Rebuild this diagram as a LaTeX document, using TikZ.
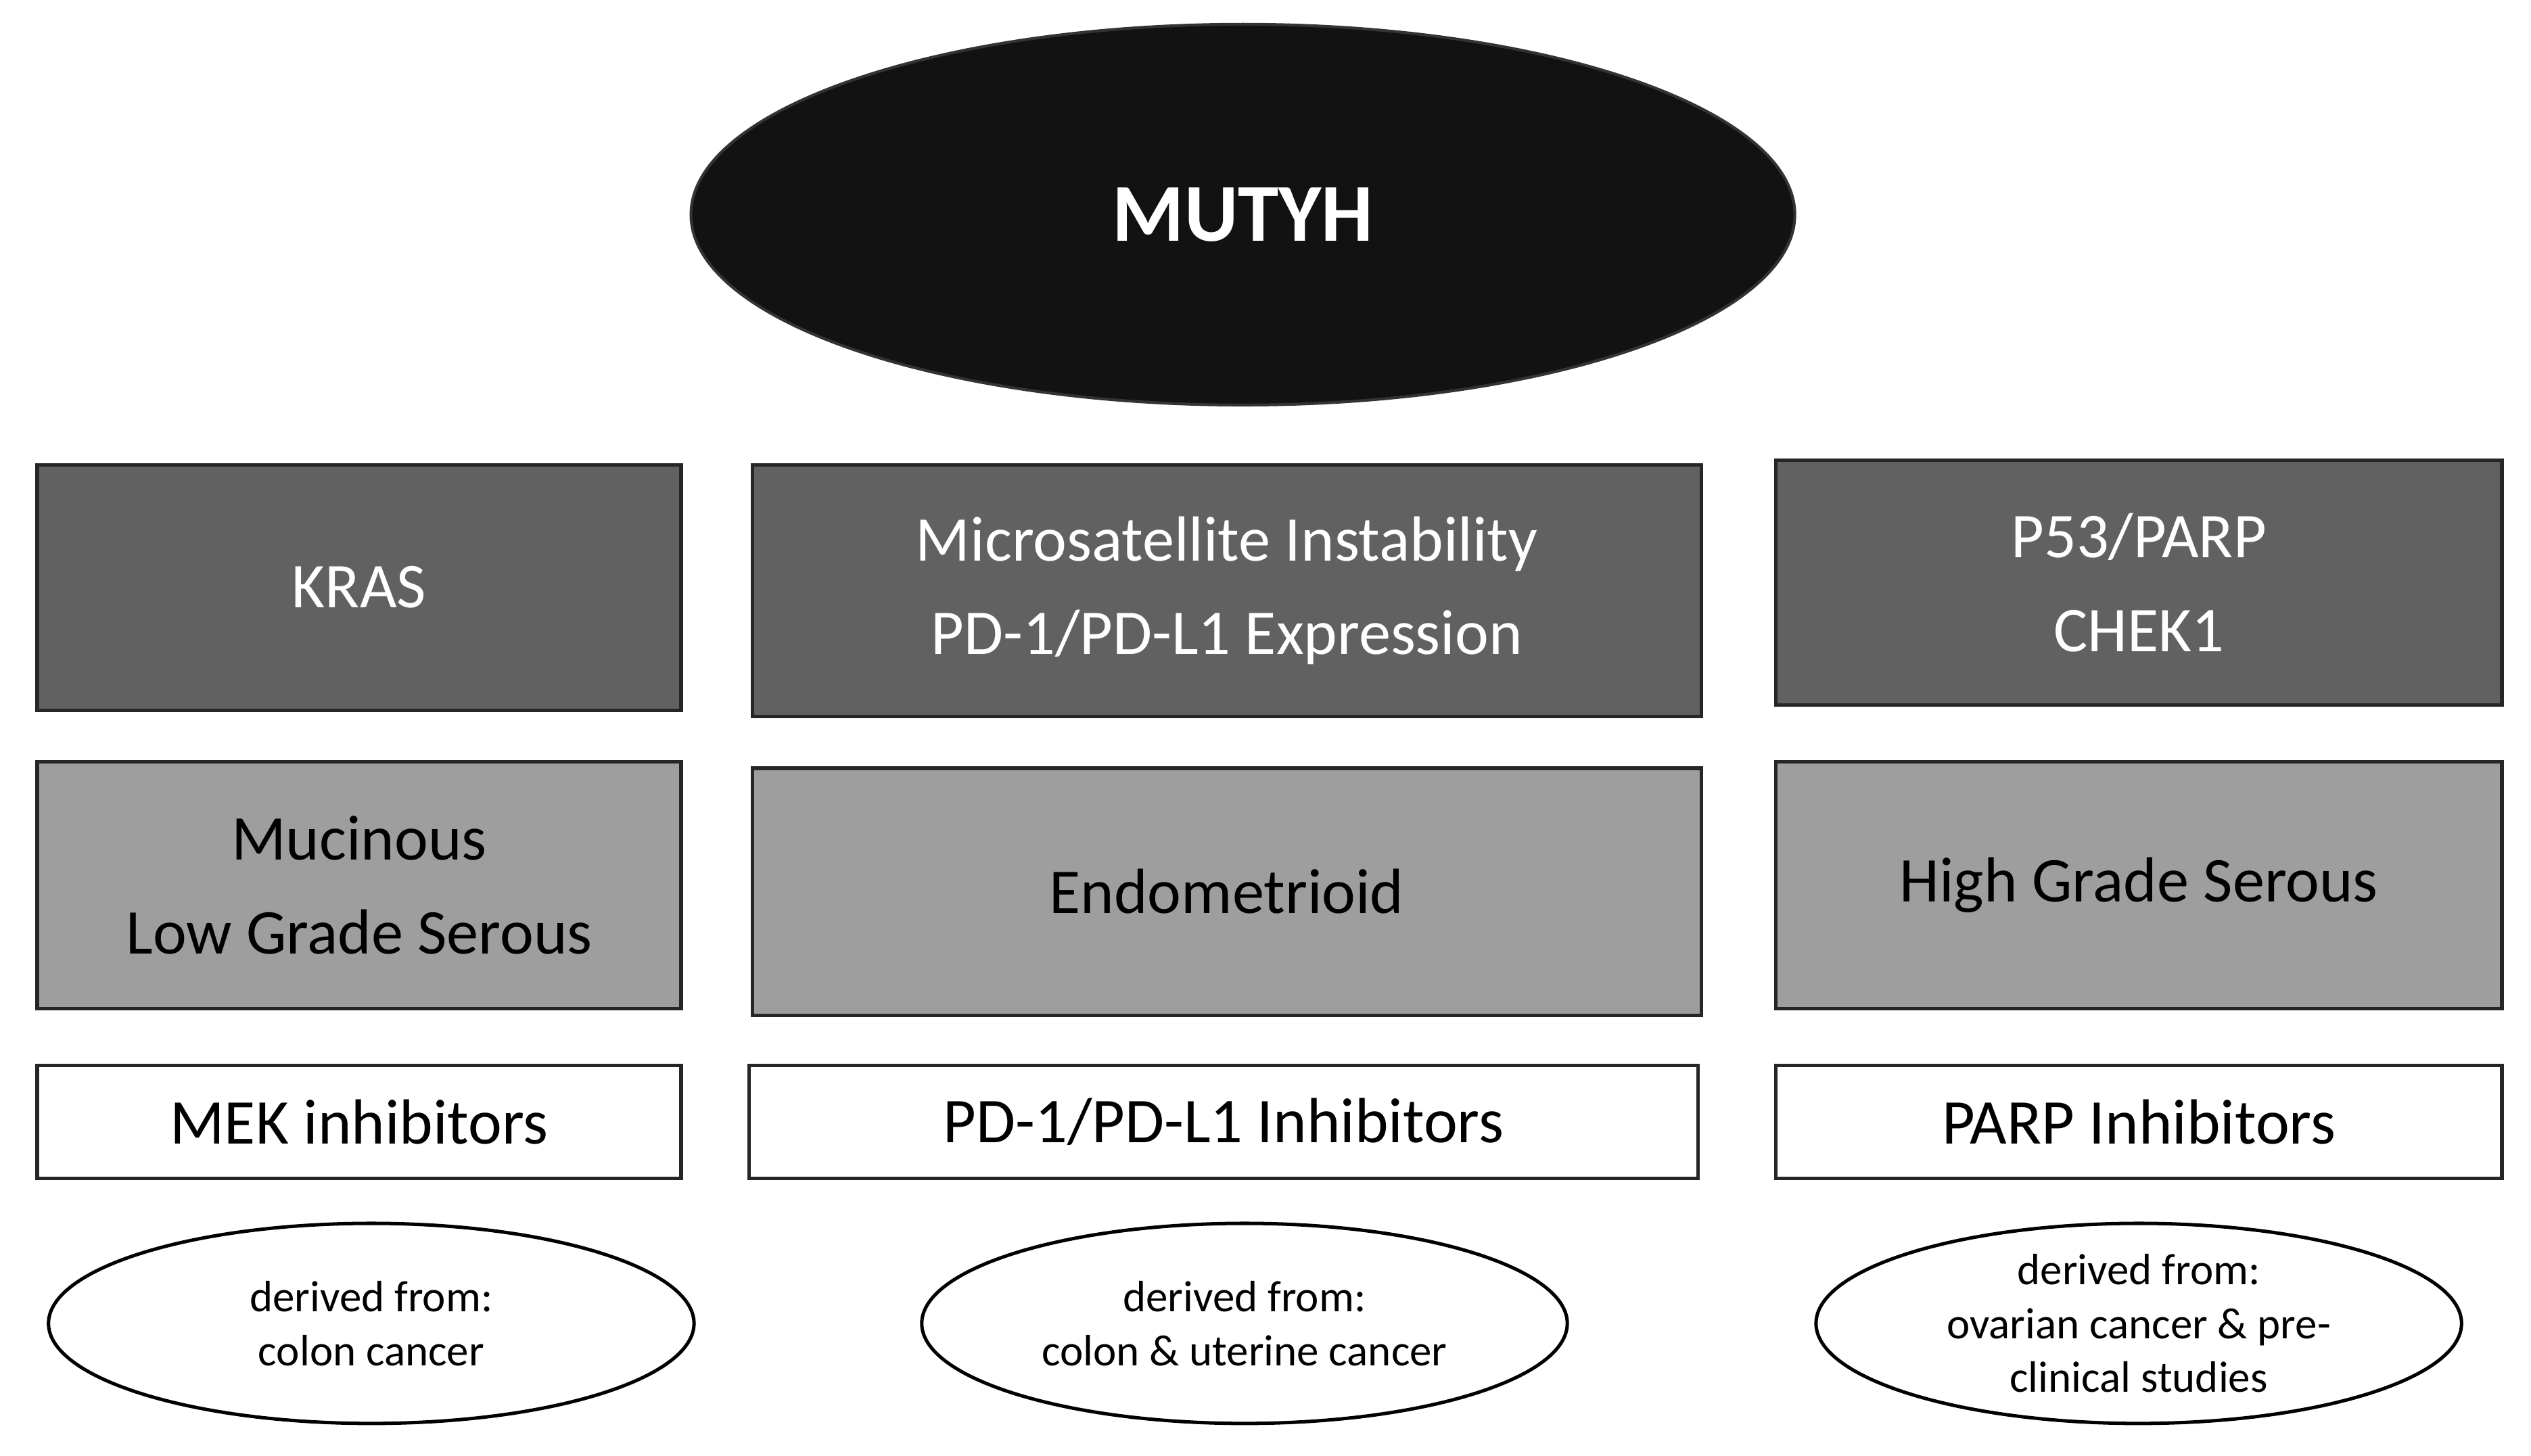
\documentclass[tikz,border=0pt]{standalone}
\usepackage{fontspec}
\setmainfont{Carlito}
\usetikzlibrary{shapes.geometric}
\begin{document}
\begin{tikzpicture}[x=0.02cm,y=-0.02cm,
  box/.style={draw=black!85,line width=1.2pt,inner sep=0pt,align=center,font=\fontsize{22.5}{33}\selectfont},
  dark/.style={box,fill=black!62,text=white},
  mid/.style={box,fill=black!38,text=black},
  wht/.style={box,fill=white,text=black},
  ell/.style={draw=black,line width=1.2pt,fill=white,ellipse,inner sep=0pt,align=center,font=\fontsize{15.5}{19}\selectfont}]
\useasboundingbox (0,0) rectangle (1568,902);
\node[ellipse,draw=black!80,line width=1pt,fill=black!93,text=white,minimum width=684\pgflinewidth*0+13.68cm,minimum height=4.72cm,font=\fontsize{29}{34}\selectfont\bfseries] (m) at (770,133) {MUTYH};
\node[dark,minimum width=7.98cm,minimum height=3.04cm] (kras) at (222.5,364) {KRAS};
\node[dark,minimum width=11.76cm,minimum height=3.12cm] (msi) at (760,366) {Microsatellite Instability\\PD-1/PD-L1 Expression};
\node[dark,minimum width=9cm,minimum height=3.04cm] (p53) at (1325,361) {P53/PARP\\CHEK1};
\node[mid,minimum width=7.98cm,minimum height=3.06cm] (muc) at (222.5,548.5) {Mucinous\\Low Grade Serous};
\node[mid,minimum width=11.76cm,minimum height=3.06cm] (endo) at (760,552.5) {Endometrioid};
\node[mid,minimum width=9cm,minimum height=3.06cm] (hgs) at (1325,548.5) {High Grade Serous};
\node[wht,minimum width=7.98cm,minimum height=1.4cm] (mek) at (222.5,695) {MEK inhibitors};
\node[wht,minimum width=11.76cm,minimum height=1.4cm] (pdi) at (758,695) {PD-1/PD-L1 Inhibitors};
\node[wht,minimum width=9cm,minimum height=1.4cm] (parp) at (1325,695) {PARP Inhibitors};
\node[ell,minimum width=8cm,minimum height=2.48cm] (e1) at (230,820) {derived from:\\colon cancer};
\node[ell,minimum width=8cm,minimum height=2.48cm] (e2) at (771,820) {derived from:\\colon \& uterine cancer};
\node[ell,minimum width=8cm,minimum height=2.48cm] (e3) at (1325,820) {derived from:\\ovarian cancer \& pre-\\clinical studies};
\end{tikzpicture}
\end{document}
